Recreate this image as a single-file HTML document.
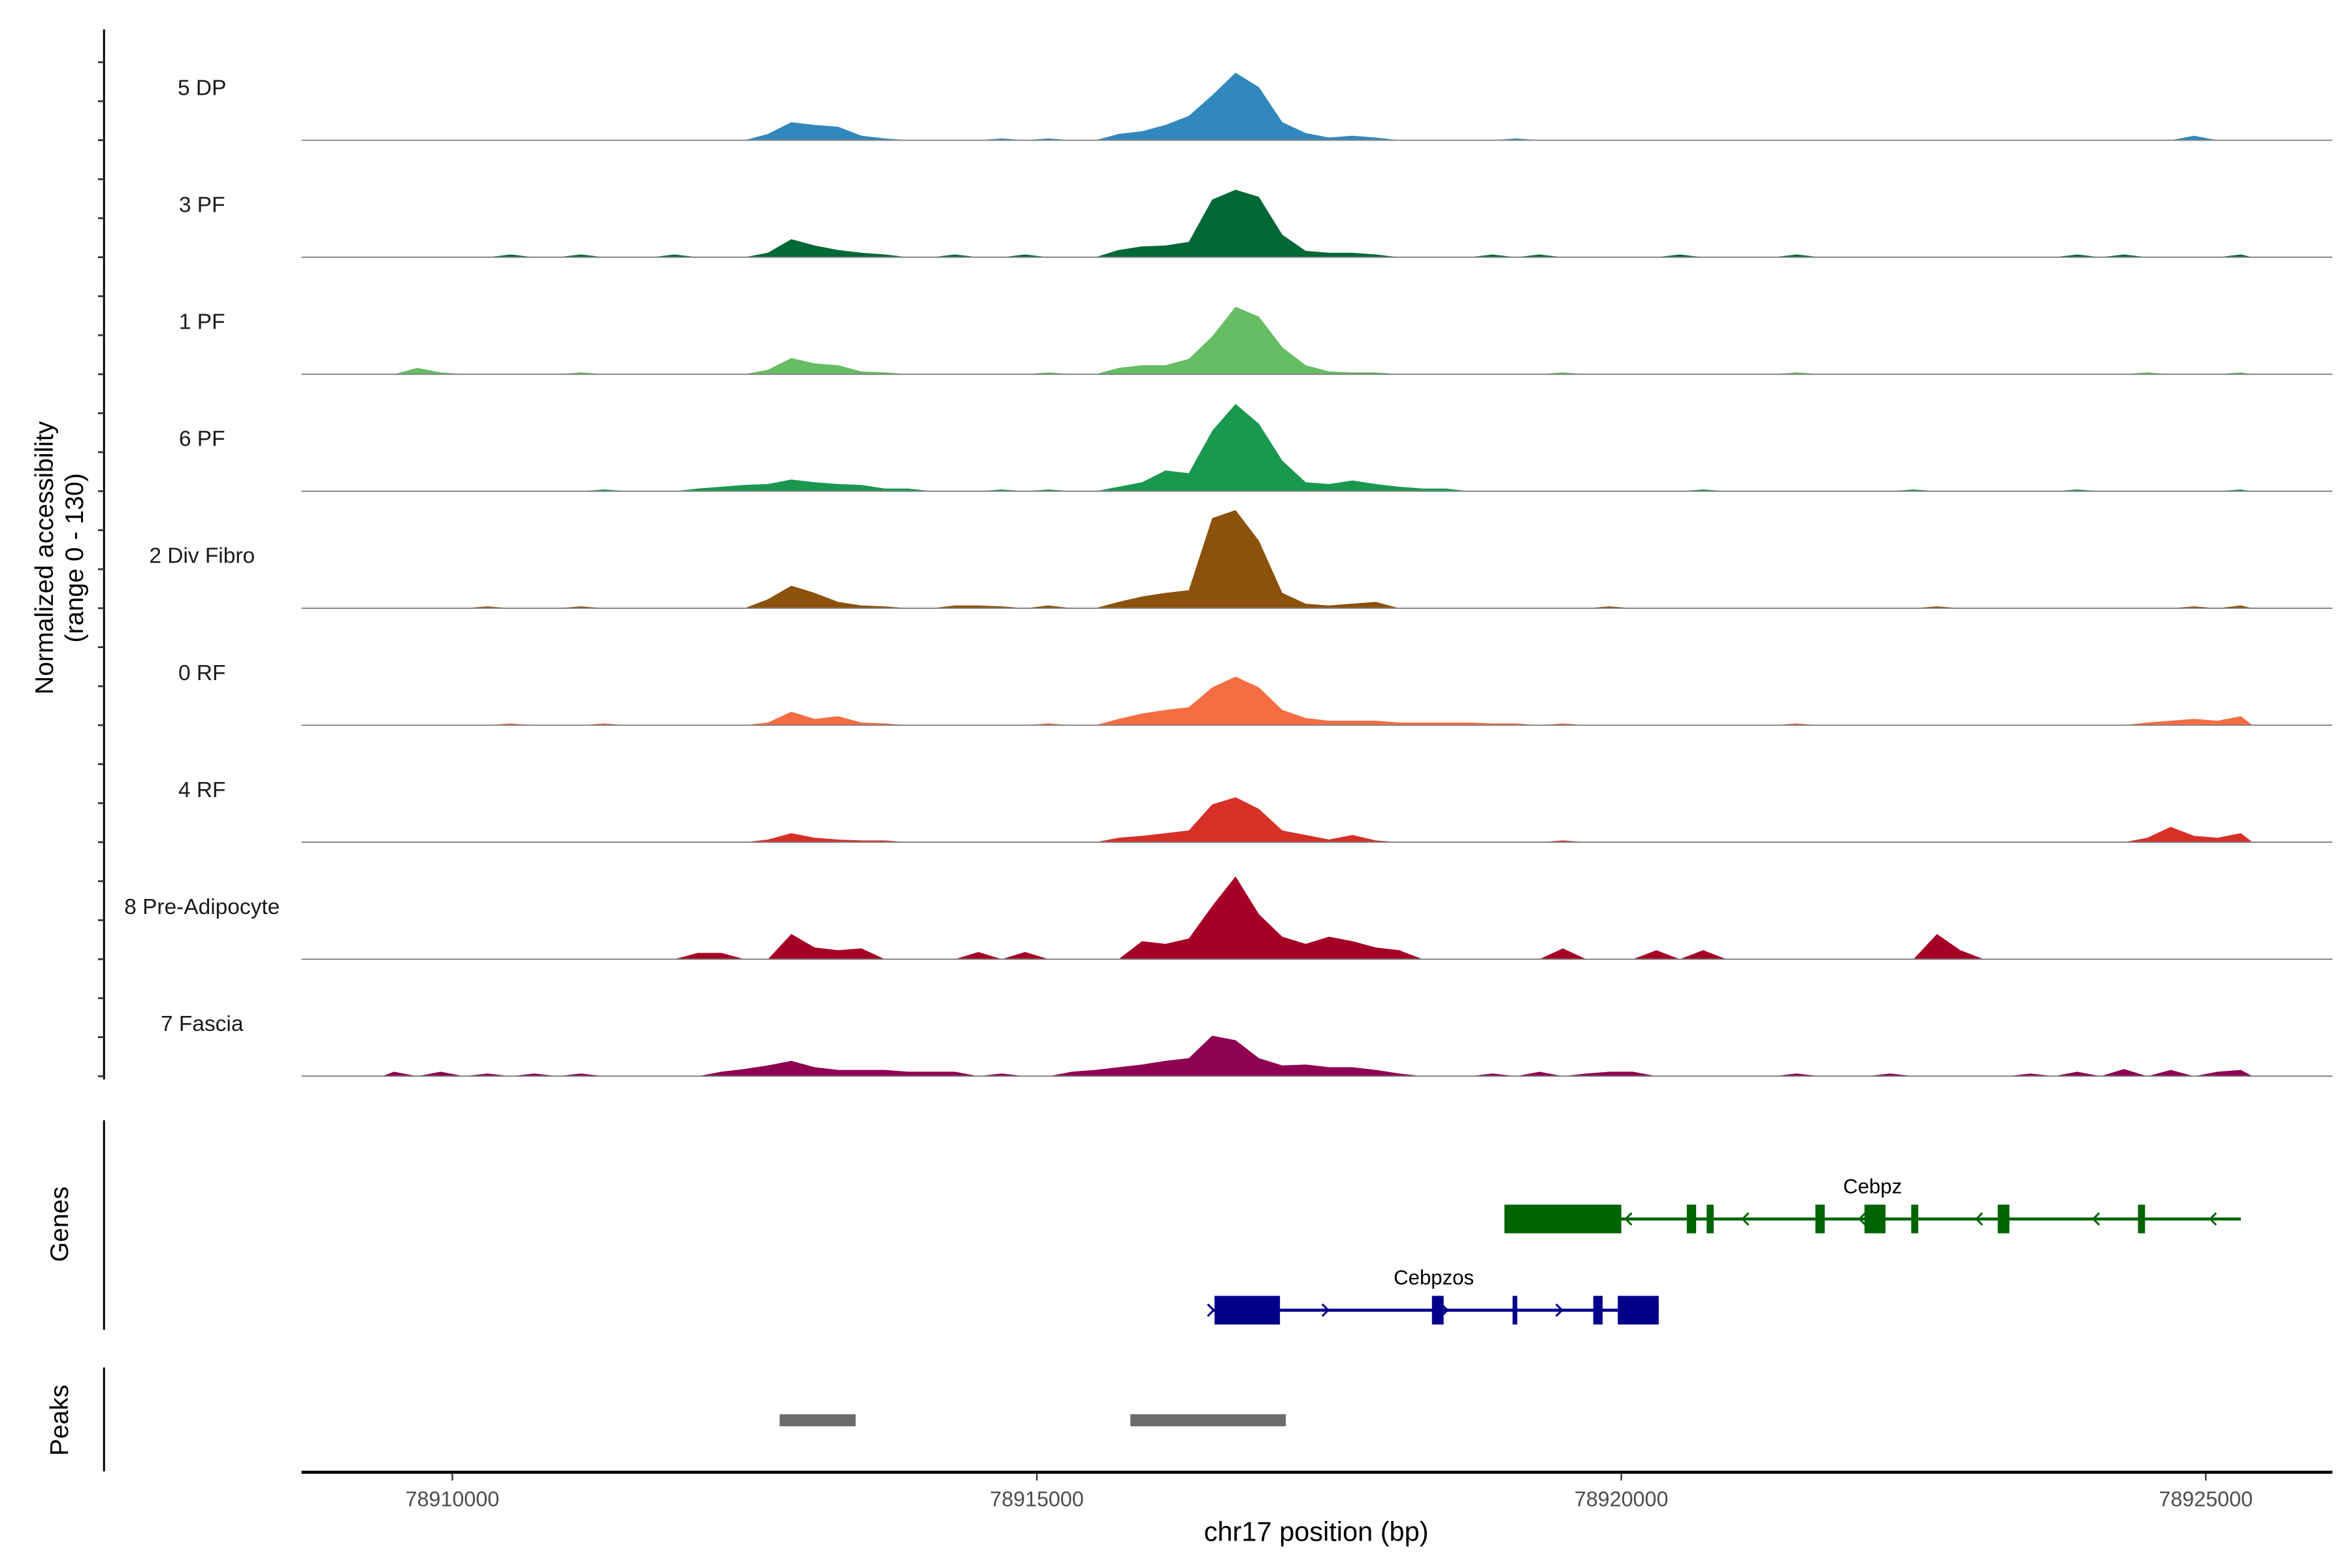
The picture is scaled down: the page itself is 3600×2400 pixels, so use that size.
<!DOCTYPE html>
<html><head><meta charset="utf-8"><title>Coverage plot</title>
<style>html,body{margin:0;padding:0;background:#fff}svg{display:block}text{font-family:"Liberation Sans",Arial,sans-serif}</style>
</head><body>
<svg id="chart" width="3600" height="2400" viewBox="0 0 1560 1040" xmlns="http://www.w3.org/2000/svg">
<g id="tracks"></g>
<g id="axes"></g>
<g id="genes"></g>
<g id="peaks"></g>
</svg>
<script>
// ---- data ----
const binStart = 78909400;
const binSize = 200;
const nBins = 80;
const trackNames = ["5 DP","3 PF","1 PF","6 PF","2 Div Fibro","0 RF","4 RF","8 Pre-Adipocyte","7 Fascia"];
const trackColors = ["#3288bd","#006837","#66bd63","#1a9850","#8c510a","#f46d43","#d73027","#a50026","#8e0152"];
const yMax = 130;
// sparse series: [binIndex, value]
const dp5 = [[16,7],[17,20],[18,17],[19,15],[20,5],[21,2],[26,2],[28,2],[31,7],[32,10],[33,17],[34,27],[35,50],[36,75],[37,59],[38,20],[39,8],[40,3],[41,5],[42,3],[48,2],[77,5]];
const pf3 = [[5,3],[8,3],[12,3],[16,5],[17,20],[18,13],[19,8],[20,5],[21,3],[24,3],[27,3],[31,8],[32,12],[33,13],[34,17],[35,64],[36,75],[37,67],[38,25],[39,7],[40,5],[41,5],[42,3],[47,3],[49,3],[55,3],[60,3],[72,3],[74,3],[79,3]];
const pf1 = [[1,7],[2,2],[8,2],[16,5],[17,18],[18,12],[19,10],[20,3],[21,2],[28,2],[31,7],[32,10],[33,10],[34,17],[35,42],[36,75],[37,64],[38,30],[39,10],[40,3],[41,2],[42,2],[50,2],[60,2],[75,2],[79,2]];
const pf6 = [[9,2],[13,3],[14,5],[15,7],[16,8],[17,13],[18,10],[19,8],[20,7],[21,3],[22,3],[26,2],[28,2],[31,5],[32,10],[33,23],[34,20],[35,67],[36,97],[37,75],[38,34],[39,10],[40,8],[41,12],[42,8],[43,5],[44,3],[45,3],[56,2],[65,2],[72,2],[79,2]];
const df2 = [[4,2],[8,2],[16,10],[17,25],[18,17],[19,7],[20,3],[21,2],[24,3],[25,3],[26,2],[28,3],[31,7],[32,13],[33,17],[34,20],[35,100],[36,109],[37,75],[38,17],[39,5],[40,3],[41,5],[42,7],[52,2],[66,2],[77,2],[79,3]];
const rf0 = [[5,2],[9,2],[16,3],[17,15],[18,7],[19,10],[20,3],[21,2],[28,2],[31,7],[32,13],[33,17],[34,20],[35,42],[36,54],[37,42],[38,17],[39,8],[40,5],[41,5],[42,5],[43,3],[44,3],[45,3],[46,3],[47,2],[48,2],[50,2],[60,2],[75,3],[76,5],[77,7],[78,5],[79,10]];
const rf4 = [[16,3],[17,10],[18,5],[19,3],[20,2],[21,2],[31,5],[32,7],[33,10],[34,13],[35,42],[36,50],[37,37],[38,13],[39,8],[40,3],[41,8],[42,2],[50,2],[75,5],[76,17],[77,7],[78,5],[79,10]];
const pa8 = [[13,7],[14,7],[17,28],[18,13],[19,10],[20,12],[25,8],[27,8],[32,20],[33,17],[34,23],[35,59],[36,92],[37,50],[38,25],[39,17],[40,25],[41,20],[42,13],[43,10],[50,12],[54,10],[56,10],[66,28],[67,10]];
const fa7 = [[0,5],[2,5],[4,3],[6,3],[8,3],[14,5],[15,8],[16,12],[17,17],[18,10],[19,7],[20,7],[21,7],[22,5],[23,5],[24,5],[26,3],[29,5],[30,7],[31,10],[32,13],[33,17],[34,20],[35,45],[36,40],[37,20],[38,12],[39,13],[40,10],[41,10],[42,7],[43,3],[47,3],[49,5],[51,3],[52,5],[53,5],[60,3],[64,3],[70,3],[72,5],[74,8],[76,7],[78,5],[79,7]];
const trackData = [dp5,pf3,pf1,pf6,df2,rf0,rf4,pa8,fa7];
// genes: exons as [start,end] bp
const cebpzExons = [[78919000,78920000],[78920560,78920640],[78920730,78920790],[78921660,78921740],[78922080,78922260],[78922480,78922540],[78923220,78923320],[78924420,78924480]];
const cebpzSpan = [78920000,78925300];
const cebpzArrows = [78920050,78921050,78922050,78923050,78924050,78925050];
const cebpzosExons = [[78916520,78917080],[78918380,78918480],[78919070,78919110],[78919760,78919840],[78919970,78920320]];
const cebpzosSpan = [78916500,78920320];
const cebpzosArrows = [78916500,78917480,78918500,78919480];
const peakRegions = [[78912800,78913450],[78915800,78917130]];
const xTicks = [78910000,78915000,78920000,78925000];

// ---- scales ----
const X0 = 200, X1 = 1547, BP0 = 78908710, BP1 = 78926083;
function xs(bp){ return X0 + (bp-BP0)/(BP1-BP0)*(X1-X0); }
const trackH = 77.6, firstBase = 93;
function ys(v, i){ return firstBase + i*trackH - v/yMax*trackH; }
const NS = "http://www.w3.org/2000/svg";
function mk(tag, attrs, parent){ const e=document.createElementNS(NS,tag); for(const k in attrs) e.setAttribute(k,attrs[k]); parent.appendChild(e); return e; }

const gT = document.getElementById('tracks');
trackData.forEach((sparse, i) => {
  const vals = new Array(nBins).fill(0);
  sparse.forEach(p => { vals[p[0]] = p[1]; });
  const base = firstBase + i*trackH;
  let d = "M" + xs(binStart) + "," + base;
  for (let b=0;b<nBins;b++){
    const c = binStart + b*binSize + binSize/2;
    d += " L" + xs(c).toFixed(2) + "," + ys(vals[b], i).toFixed(2);
  }
  d += " L" + xs(binStart+nBins*binSize) + "," + base + " Z";
  const area = mk('path', {d:d, fill:trackColors[i]}, gT);
  
  
  const bl = mk('line', {x1:X0, x2:X1, y1:base, y2:base, stroke:'#7f7f7f', 'stroke-width':0.8}, gT);
  
  
  const lab = mk('text', {x:134, y:base-30, 'font-size':14.5, 'text-anchor':'middle', fill:'#1a1a1a'}, gT);
  lab.textContent = trackNames[i];
  
  
});

// ---- axes ----
const gA = document.getElementById('axes');
mk('line', {x1:69, x2:69, y1:19.5, y2:716, stroke:'#000', 'stroke-width':1.3}, gA);
for (let i=0;i<9;i++){
  for (let k=0;k<3;k++){
    const y = firstBase + i*trackH - k*trackH/3;
    const t = mk('line', {x1:65, x2:69, y1:y, y2:y, stroke:'#333', 'stroke-width':1.2}, gA);
    
    
  }
}
const yt = mk('text', {transform:'translate(35,370) rotate(-90)', 'font-size':17, 'text-anchor':'middle', fill:'#000'}, gA);
yt.textContent = 'Normalized accessibility';


const yt2 = mk('text', {transform:'translate(55,370) rotate(-90)', 'font-size':17, 'text-anchor':'middle', fill:'#000'}, gA);
yt2.textContent = '(range 0 - 130)';


mk('line', {x1:69, x2:69, y1:743, y2:882, stroke:'#000', 'stroke-width':1.3}, gA);
mk('line', {x1:69, x2:69, y1:907, y2:976, stroke:'#000', 'stroke-width':1.3}, gA);
const gl = mk('text', {transform:'translate(45,812) rotate(-90)', 'font-size':17, 'text-anchor':'middle', fill:'#000'}, gA);
gl.textContent = 'Genes';


const pl = mk('text', {transform:'translate(45,942) rotate(-90)', 'font-size':17, 'text-anchor':'middle', fill:'#000'}, gA);
pl.textContent = 'Peaks';


mk('line', {x1:X0, x2:X1, y1:976.5, y2:976.5, stroke:'#000', 'stroke-width':2}, gA);
xTicks.forEach(v => {
  const x = xs(v);
  const t = mk('line', {x1:x, x2:x, y1:977, y2:982, stroke:'#333', 'stroke-width':1}, gA);
  
  
  const l = mk('text', {x:x, y:999, 'font-size':14, 'text-anchor':'middle', fill:'#4d4d4d'}, gA);
  l.textContent = String(v);
  
  
});
const xt = mk('text', {x:873, y:1022, 'font-size':18, 'text-anchor':'middle', fill:'#000'}, gA);
xt.textContent = 'chr17 position (bp)';



// ---- genes ----
const gG = document.getElementById('genes');
function drawGene(name, span, exons, arrows, y, color, dir, labelX){
  const g = mk('g', {}, gG);
  
  
  mk('line', {x1:xs(span[0]), x2:xs(span[1]), y1:y, y2:y, stroke:color, 'stroke-width':2}, g);
  exons.forEach(e => {
    const r = mk('rect', {x:xs(e[0]), y:y-9.5, width:Math.max(2.5, xs(e[1])-xs(e[0])), height:19, fill:color}, g);
    
    
  });
  arrows.forEach(a => {
    const x = xs(a);
    const d = dir < 0 ? `M${x+3},${y-4} L${x-1},${y} L${x+3},${y+4}` : `M${x-3},${y-4} L${x+1},${y} L${x-3},${y+4}`;
    const p = mk('path', {d:d, fill:'none', stroke:color, 'stroke-width':1.3}, g);
    
    
  });
  const t = mk('text', {x:labelX, y:y-17, 'font-size':13.5, 'text-anchor':'middle', fill:'#000'}, g);
  t.textContent = name;
  
  
}
drawGene('Cebpz', cebpzSpan, cebpzExons, cebpzArrows, 808.5, '#006400', -1, 1242);
drawGene('Cebpzos', cebpzosSpan, cebpzosExons, cebpzosArrows, 869, '#00008b', 1, 951);

// ---- peaks ----
const gP = document.getElementById('peaks');
peakRegions.forEach(p => {
  const r = mk('rect', {x:xs(p[0]), y:938, width:xs(p[1])-xs(p[0]), height:8, fill:'#6b6b6b'}, gP);
  
  
});
</script>
</body></html>
